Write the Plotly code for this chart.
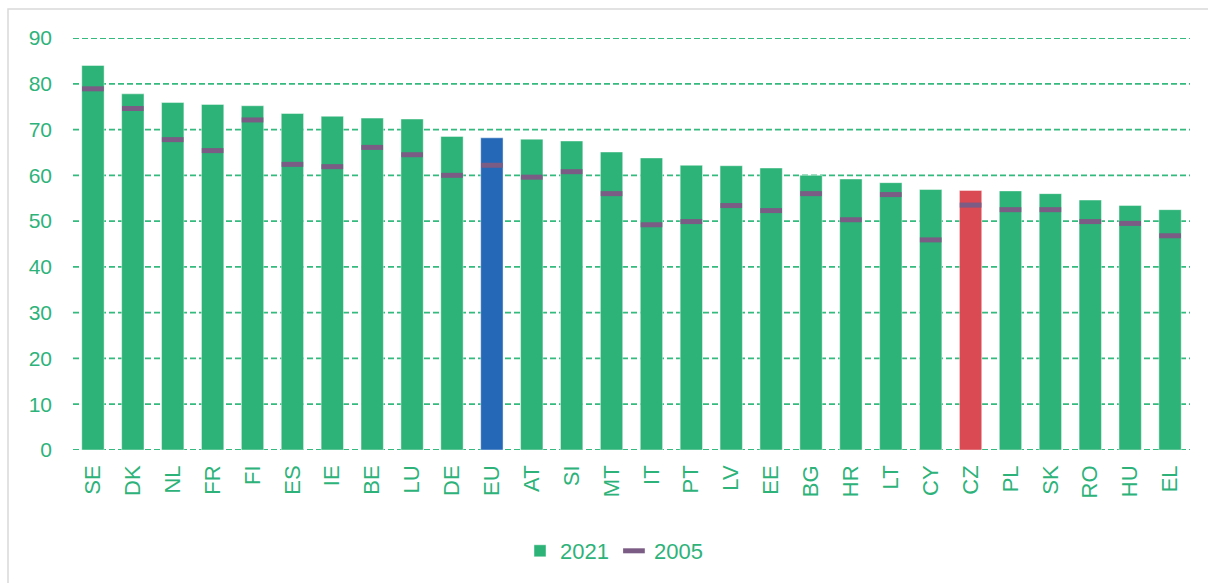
import plotly.graph_objects as go

countries = ["SE", "DK", "NL", "FR", "FI", "ES", "IE", "BE", "LU", "DE", "EU", "AT", "SI", "MT",
             "IT", "PT", "LV", "EE", "BG", "HR", "LT", "CY", "CZ", "PL", "SK", "RO", "HU", "EL"]
values_2021 = [84.0, 77.8, 75.9, 75.5, 75.2, 73.5, 72.9, 72.5, 72.3, 68.5, 68.2, 67.9, 67.5, 65.1,
               63.8, 62.2, 62.1, 61.6, 60.0, 59.2, 58.4, 56.9, 56.7, 56.6, 56.0, 54.6, 53.4, 52.5]
values_2005 = [78.9, 74.6, 67.8, 65.4, 72.1, 62.4, 61.9, 66.1, 64.5, 60.0, 62.2, 59.6, 60.8, 56.0,
               49.2, 49.9, 53.4, 52.3, 56.0, 50.3, 55.8, 45.9, 53.5, 52.5, 52.5, 49.9, 49.5, 46.8]
y_ticks = [0, 10, 20, 30, 40, 50, 60, 70, 80, 90]

GREEN = "#2DB377"
BLUE = "#2568B8"
RED = "#D94A53"
PURPLE = "#7B5C85"
TEXT = "#2DB37A"

colors = [BLUE if c == "EU" else RED if c == "CZ" else GREEN for c in countries]

fig = go.Figure()
fig.add_trace(go.Bar(
    x=countries, y=values_2021, name="2021",
    marker=dict(color=colors, line=dict(color="rgba(255,255,255,0.45)", width=1)),
    width=0.56,
))
fig.add_trace(go.Scatter(
    x=countries, y=values_2005, name="2005", mode="markers",
    marker=dict(symbol="line-ew", size=15.5, color=PURPLE, line=dict(color=PURPLE, width=5)),
))

L, R, T, B = 73, 18, 38, 132
W, H = 1208, 583
pw, ph = W - L - R, H - T - B

def px_x(px):
    return (px - L) / pw

def px_y(py):
    return (H - B - py) / ph

grid_shapes = [dict(type="line", xref="paper", yref="y", x0=0, x1=1, y0=v, y1=v,
                    line=dict(color="#34B97E", width=1.8, dash="6px,3px"), layer="below")
               for v in y_ticks]

fig.update_layout(
    width=W, height=H,
    margin=dict(l=L, r=R, t=T, b=B),
    plot_bgcolor="white", paper_bgcolor="white",
    font=dict(family="Liberation Sans, Arial, sans-serif", color=TEXT, size=21),
    bargap=0.44,
    showlegend=True,
    legend=dict(orientation="h", x=px_x(614), xanchor="center", y=px_y(551), yanchor="middle",
                font=dict(size=22, color=TEXT), itemwidth=30, tracegroupgap=0),
    xaxis=dict(tickangle=-90, showgrid=False, showline=False, ticks="",
               tickfont=dict(size=22, color=TEXT), range=[-0.5, len(countries) - 0.5],
               ticklabelstandoff=10),
    yaxis=dict(range=[0, 90], tickvals=y_ticks, showgrid=False, zeroline=False,
               showline=False, ticks="", tickfont=dict(size=21, color=TEXT),
               ticklabelstandoff=20),
    shapes=grid_shapes + [
        dict(type="rect", xref="paper", yref="paper",
             x0=px_x(8), x1=px_x(1220), y0=px_y(600), y1=px_y(9),
             line=dict(color="#D9D9D9", width=1.5), fillcolor="rgba(0,0,0,0)")],
)

fig.write_html("out.html", config={"displayModeBar": False},
               post_script="document.body.style.margin='0';document.body.style.overflow='hidden';")
